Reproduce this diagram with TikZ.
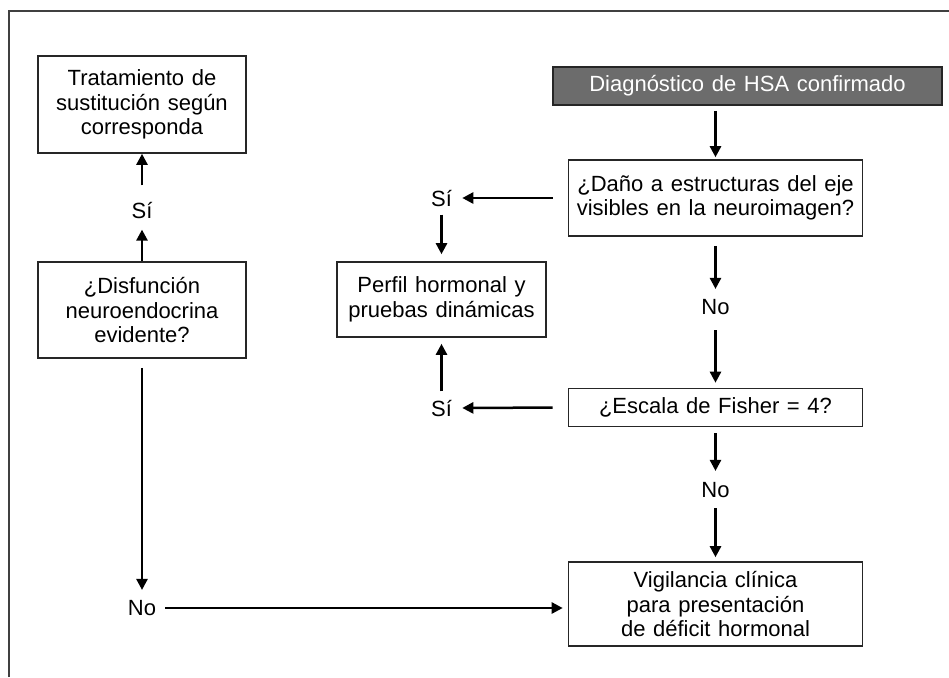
\documentclass[tikz,border=0pt]{standalone}
\usepackage{fontspec}
\setmainfont{Liberation Sans}[WordSpace=1.25]
\usetikzlibrary{arrows.meta}
\begin{document}
\begin{tikzpicture}[x=0.5pt,y=-0.5pt,
  box/.style={draw=black!85,line width=0.8pt,align=center,inner sep=0pt,font=\fontsize{11}{12.25}\selectfont},
  lbl/.style={inner sep=0pt,font=\fontsize{11}{12.25}\selectfont},
  arr/.style={line width=1.25pt,-{Triangle[length=5.5pt,width=5.5pt]}}]
\definecolor{darkbox}{RGB}{108,108,108}
\useasboundingbox (0,0) rectangle (949,677);
\draw[black!75,line width=0.7pt] (9,677) -- (9,11) -- (949,11);
% right column
\node[box,fill=darkbox,text=white,minimum width=194.5pt,minimum height=19pt] (diag) at (747.5,86) {Diagnóstico de HSA confirmado};
\node[box,minimum width=147pt,minimum height=38pt] (dano) at (715.5,198) {¿Daño a estructuras del eje\\visibles en la neuroimagen?};
\node[box,minimum width=147pt,minimum height=19pt] (escala) at (715.5,407.5) {¿Escala de Fisher = 4?};
\node[box,minimum width=147pt,minimum height=42pt] (vigil) at (715.5,604) {Vigilancia clínica\\para presentación\\de déficit hormonal};
\node[lbl] (no1) at (715.5,307) {No};
\node[lbl] (no2) at (715.5,490) {No};
% middle
\node[box,minimum width=104.5pt,minimum height=37.5pt] (perfil) at (441.5,299.5) {Perfil hormonal y\\pruebas dinámicas};
\node[lbl] (si1) at (441.5,198) {Sí};
\node[lbl] (si2) at (441.5,408) {Sí};
% left column
\node[box,minimum width=104pt,minimum height=48.5pt] (trat) at (142,104.5) {Tratamiento de\\sustitución según\\corresponda};
\node[box,minimum width=104pt,minimum height=48pt] (disf) at (142,310) {¿Disfunción\\neuroendocrina\\evidente?};
\node[lbl] (si3) at (142,210) {Sí};
\node[lbl] (no3) at (142,608) {No};
% arrows
\draw[arr,shorten <=2.5pt,shorten >=1pt] (dano |- diag.south) -- (dano.north);
\draw[arr,shorten <=4.5pt,shorten >=5pt] (dano.south) -- (no1.north);
\draw[arr,shorten <=7.5pt,shorten >=2.5pt] (no1.south) -- (escala.north);
\draw[arr,shorten <=3pt,shorten >=5.5pt] (escala.south) -- (no2.north);
\draw[arr,shorten <=5pt,shorten >=2pt] (no2.south) -- (vigil.north);
\draw[arr,shorten <=7.5pt,shorten >=5pt] (dano.west) -- (si1.east);
\draw[arr,shorten <=7.5pt,shorten >=5pt] (escala.west) -- (si2.east);
\draw[arr,shorten <=4pt,shorten >=3.5pt] (si1.south) -- (perfil.north);
\draw[arr,shorten <=4pt,shorten >=3pt] (si2.north) -- (perfil.south);
\draw[arr,shorten <=8pt,shorten >=0pt] (si3.north) -- (trat.south);
\draw[arr,shorten <=0pt,shorten >=5.5pt] (disf.north) -- (si3.south);
\draw[arr,shorten <=4.5pt,shorten >=5pt] (disf.south) -- (no3.north);
\draw[arr,shorten <=4.5pt,shorten >=2.5pt] (no3.east) -- (vigil.west |- no3.east);
\end{tikzpicture}
\end{document}
